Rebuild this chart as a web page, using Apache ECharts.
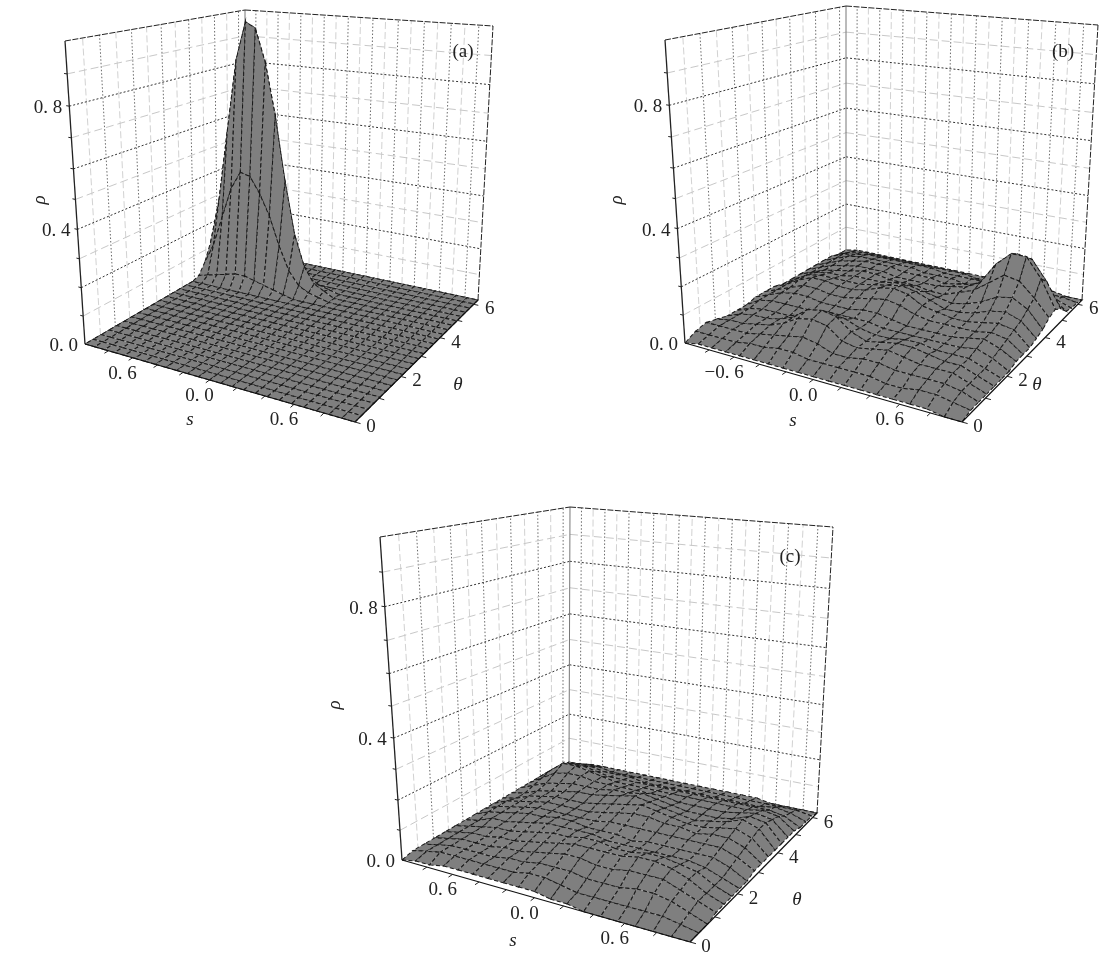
<!DOCTYPE html>
<html><head><meta charset="utf-8">
<style>html,body{margin:0;padding:0;background:#fff}#c{width:1107px;height:971px}</style>
<script src="https://cdn.jsdelivr.net/npm/echarts@6/dist/echarts.min.js"></script>
</head><body><div id="c"></div>
<script>
// ---- tick labels and axis values ----
const rhoTicks = [0,0.4,0.8];
const rhoTickLabels = ['0. 0','0. 4','0. 8'];
const rhoGrid = [0.1,0.2,0.3,0.4,0.5,0.6,0.7,0.8,0.9];
const thetaTicks = [0,2,4,6];
const thetaGrid = [0.5,1,1.5,2,2.5,3,3.5,4,4.5,5,5.5,6];
const sTicks = [-0.6,0,0.6];
const sGrid = [-0.9,-0.8,-0.7,-0.6,-0.5,-0.4,-0.3,-0.2,-0.1,0,0.1,0.2,0.3,0.4,0.5,0.6,0.7,0.8,0.9];
const sLabelsA = ['0. 6','0. 0','0. 6'];
const sLabelsB = ['\u22120. 6','0. 0','0. 6'];
const sLabelsC = ['0. 6','0. 0','0. 6'];
const thetaMax = 6.28;

// ---- surfaces: rho x 100, rows = theta from 0 upward, columns = s from -1 to 1 ----
const rhoA = [
[0,0,0,0,0,0,0,0,0,0,0,0,0,0,0,0,0,0,0,0,0,0,0,0,0],
[0,0,0,0,0,0,0,0,0,0,0,0,0,0,0,0,0,0,0,0,0,0,0,0,0],
[0,0,0,0,0,0,0,0,0,0,0,0,0,0,0,0,0,0,0,0,0,0,0,0,0],
[0,0,0,0,0,0,0,0,0,0,0,0,0,0,0,0,0,0,0,0,0,0,0,0,0],
[0,0,0,0,0,0,0,0,0,0,0,0,0,0,0,0,0,0,0,0,0,0,0,0,0],
[0,0,0,0,0,0,0,0,0,0,0,0,0,0,0,0,0,0,0,0,0,0,0,0,0],
[0,0,0,0,0,0,0,0,0,0,0,0,0,0,0,0,0,0,0,0,0,0,0,0,0],
[0,0,0,0,0,0,0,0,0,0,0,0,0,0,0,0,0,0,0,0,0,0,0,0,0],
[0,0,0,0,0,0,0,0,0,0,0,0,0,0,0,0,0,0,0,0,0,0,0,0,0],
[0,0,0,0,0,0,0,0,0,0,0,0,0,0,0,0,0,0,0,0,0,0,0,0,0],
[0,0,0,0,0,0,0,0,0,0,0,0,0,0,0,0,0,0,0,0,0,0,0,0,0],
[0,0,0,0,0,0,0,0,0,0,0,0,0,0,0,0,0,0,0,0,0,0,0,0,0],
[0,0,0,0,0,0,0,0,0,0,0,0,0,0,0,0,0,0,0,0,0,0,0,0,0],
[0,0,0,0,0,0,0,0,0,0,0,0,0,0,0,0,0,0,0,0,0,0,0,0,0],
[0,0,0,0,0,0,0,0,0,0,0,0,0,0,0,0,0,0,0,0,0,0,0,0,0],
[0,0,0,0,0,0,0,0,0,0,0,0,0,0,0,0,0,0,0,0,0,0,0,0,0],
[1,2,3,4,5,5,4,3,2,1,0,0,0,0,0,0,0,0,0,0,0,0,0,0,0],
[5,13,25,37,44,43,37,29,18,9,4,2,1,0,0,0,0,0,0,0,0,0,0,0,0],
[12,30,58,85,99,97,85,66,42,22,10,4,2,0,0,0,0,0,0,0,0,0,0,0,0],
[5,12,24,36,42,41,36,28,17,8,4,2,1,0,0,0,0,0,0,0,0,0,0,0,0],
[1,2,3,4,5,5,4,3,2,1,0,0,0,0,0,0,0,0,0,0,0,0,0,0,0],
[0,0,0,0,0,0,0,0,0,0,0,0,0,0,0,0,0,0,0,0,0,0,0,0,0],
[0,0,0,0,0,0,0,0,0,0,0,0,0,0,0,0,0,0,0,0,0,0,0,0,0],
[0,0,0,0,0,0,0,0,0,0,0,0,0,0,0,0,0,0,0,0,0,0,0,0,0],
[0,0,0,0,0,0,0,0,0,0,0,0,0,0,0,0,0,0,0,0,0,0,0,0,0]
];
const rhoB = [
[0,1,1,1,1,1,1,1,1,1,1,1,1,1,1,1,1,0,0],
[2,2,2,2,3,3,4,4,3,3,3,3,3,2,2,3,3,2,1],
[3,3,3,3,4,5,6,7,6,4,4,5,5,4,4,4,4,3,1],
[2,3,3,4,5,7,10,11,10,6,5,6,7,6,5,5,5,3,1],
[1,3,4,4,5,7,11,12,11,7,5,6,7,7,6,5,5,3,1],
[1,3,4,4,4,6,8,9,8,6,5,5,6,6,5,5,5,3,1],
[1,4,5,5,5,5,5,6,6,6,5,5,5,5,5,5,6,4,1],
[2,4,6,7,7,6,6,6,7,7,6,5,5,5,5,6,7,5,2],
[2,4,6,8,8,7,7,8,9,10,9,7,6,6,6,6,7,6,2],
[2,4,7,9,9,8,8,9,11,12,11,8,7,6,6,7,8,7,2],
[1,4,7,8,8,8,8,9,10,11,10,8,6,6,7,9,10,8,3],
[1,3,6,7,7,8,8,8,9,9,8,7,6,7,9,12,13,10,4],
[1,3,5,6,7,8,8,7,7,7,6,6,8,10,14,18,17,12,6],
[1,3,5,6,7,7,7,6,6,6,6,7,8,11,19,24,24,17,7],
[1,3,5,6,7,7,7,6,6,6,5,6,7,10,16,22,21,14,5],
[1,3,5,6,6,6,6,6,5,5,5,4,5,7,9,11,10,6,2],
[1,3,4,5,5,5,5,5,5,4,4,4,4,4,5,6,5,3,1],
[0,2,3,3,3,3,3,3,3,3,3,2,2,2,2,2,2,2,1],
[0,1,1,1,1,1,1,1,1,1,1,1,1,1,1,1,1,0,0]
];
const rhoC = [
[0,1,1,2,2,2,2,2,2,2,1,1,0,0,0,0,0,0,0],
[1,2,3,3,3,3,3,3,4,4,3,2,2,2,2,2,2,1,0],
[1,2,3,3,3,3,4,4,5,5,5,4,4,4,5,5,4,2,0],
[1,2,3,3,3,4,4,5,6,7,7,6,6,7,7,7,5,3,1],
[1,2,3,3,4,4,5,6,7,8,8,8,8,9,9,8,6,3,1],
[1,2,3,4,4,5,6,7,7,8,8,7,7,8,8,7,6,3,1],
[1,2,4,4,5,6,7,7,7,7,6,6,6,6,6,6,5,3,1],
[1,3,4,5,6,6,7,7,6,6,6,5,6,6,6,6,6,4,1],
[1,3,4,5,6,6,6,6,6,7,7,7,7,7,7,7,7,5,2],
[1,3,4,5,6,6,6,6,7,8,9,9,8,8,7,8,8,6,2],
[1,2,4,5,6,6,6,7,8,9,10,9,8,7,7,8,9,7,2],
[1,2,4,5,6,7,7,8,9,10,9,8,7,6,7,8,10,8,2],
[1,3,5,6,7,7,7,8,8,9,8,7,6,6,6,7,9,8,2],
[1,4,7,8,8,7,7,7,7,7,7,6,6,6,6,7,8,7,2],
[1,5,9,9,8,7,6,6,6,6,6,6,6,6,6,6,7,6,2],
[1,4,7,7,6,5,5,5,5,5,5,5,5,5,5,5,5,4,1],
[1,3,5,5,4,4,4,3,3,3,3,3,3,3,3,3,4,3,1],
[0,2,3,3,2,2,2,2,2,2,2,2,2,2,2,2,2,2,1],
[0,0,1,1,1,1,1,1,1,1,1,1,1,1,1,0,0,0,0]
];

// ---- panel layout: screen corners of the axis box ----
const panels = [
 {tag:'(a)',rho:rhoA,sLabels:sLabelsA,A:[85,344],F:[355,422],R:[478,300],B:[245,251],TA:[65,41],TB:[245,10],TR:[493,26],
  tagAt:[463,52],rhoTitle:[40,200],sTitle:[190,420],thTitle:[458,385]},
 {tag:'(b)',rho:rhoB,sLabels:sLabelsB,A:[685,343],F:[962,422],R:[1082,300],B:[846,250],TA:[665,40],TB:[846,6],TR:[1098,25],
  tagAt:[1063,52],rhoTitle:[617,200],sTitle:[793,421],thTitle:[1037,385]},
 {tag:'(c)',rho:rhoC,sLabels:sLabelsC,A:[402,860],F:[690,942],R:[817,813],B:[569,762],TA:[380,537],TB:[570,507],TR:[833,527],
  tagAt:[790,557],rhoTitle:[335,705],sTitle:[513,941],thTitle:[797,900]}
];

function camera(p){
  const [x0,y0]=p.A,[x1,y1]=p.F,[x2,y2]=p.R,[x3,y3]=p.B;
  const dx1=x1-x2,dx2=x3-x2,sx=x0-x1+x2-x3,dy1=y1-y2,dy2=y3-y2,sy=y0-y1+y2-y3;
  const den=dx1*dy2-dx2*dy1;
  const g=(sx*dy2-dx2*sy)/den,h=(dx1*sy-sx*dy1)/den;
  const pu=[x1-x0+g*x1,y1-y0+g*y1],pv=[x3-x0+h*x3,y3-y0+h*y3];
  const TA=p.TA,TB=p.TB,TR=p.TR;
  let num=0,dd=0;
  for(let k=0;k<2;k++){
    let d=TA[k]-TB[k],e=TB[k]*(1+h)-pv[k]-TA[k]; num+=d*e;dd+=d*d;
    d=TA[k]-TR[k];e=TR[k]*(1+g+h)-pu[k]-pv[k]-TA[k]; num+=d*e;dd+=d*d;
  }
  const c=num/dd;
  const pw=[TA[0]*(1+c)-x0,TA[1]*(1+c)-y0];
  const raw=function(u,v,w){
    const q=1+g*u+h*v+c*w;
    return [(x0+pu[0]*u+pv[0]*v+pw[0]*w)/q,(y0+pu[1]*u+pv[1]*v+pw[1]*w)/q];
  };
  const eB=raw(0,1,1),eR=raw(1,1,1);
  const dB=[TB[0]-eB[0],TB[1]-eB[1]],dR=[TR[0]-eR[0],TR[1]-eR[1]];
  return function(s,th,r){
    const u=(s+1)/2,v=th/thetaMax,q=raw(u,v,r);
    const kB=r*v*(1-u),kR=r*v*u;
    return [q[0]+kB*dB[0]+kR*dR[0],q[1]+kB*dB[1]+kR*dR[1]];
  };
}

const SERIF='"Liberation Serif","DejaVu Serif",serif';
const styles={
 light:{stroke:'#d2d2d2',lineWidth:1,lineDash:[7,3]},
 dark:{stroke:'#6a6a6a',lineWidth:1,lineDash:[1.5,2]},
 lightH:{stroke:'#c8c8c8',lineWidth:1,lineDash:[8,4]},
 darkH:{stroke:'#333',lineWidth:1,lineDash:[2,2]},
 back:{stroke:'#777',lineWidth:1},
 top:{stroke:'#222',lineWidth:1,lineDash:[6,1.5]},
 edge:{stroke:'#222',lineWidth:1.3},
 base:{stroke:'#111',lineWidth:1.2},
 tick:{stroke:'#222',lineWidth:1}
};

const series=[];
panels.forEach(p=>{
  const P=camera(p), T=thetaMax;
  // walls
  const wall=[];
  thetaGrid.forEach((t,k)=>{ wall.push([[-1,t,0],[-1,t,1],k%2?'dark':'light']); });
  sGrid.forEach((s,k)=>{ wall.push([[s,T,0],[s,T,1],k%2?'light':'dark']); });
  rhoGrid.forEach((r,k)=>{
    wall.push([[-1,0,r],[-1,T,r],k%2?'darkH':'lightH']);
    wall.push([[-1,T,r],[1,T,r],k%2?'darkH':'lightH']);
  });
  wall.push([[-1,T,0],[-1,T,1],'back']);
  wall.push([[-1,0,1],[-1,T,1],'top']);
  wall.push([[-1,T,1],[1,T,1],'top']);
  wall.push([[-1,0,0],[-1,0,1],'edge']);
  wall.push([[1,T,0],[1,T,1],'top']);
  wall.push([[-1,0,0],[-1,T,0],'tick']);
  wall.push([[-1,T,0],[1,T,0],'tick']);
  const lineItem=(list)=>function(params,api){
    const it=list[params.dataIndex];
    const a=api.coord(P(...it[0])),b=api.coord(P(...it[1]));
    return {type:'line',shape:{x1:a[0],y1:a[1],x2:b[0],y2:b[1]},style:Object.assign({fill:null},styles[it[2]])};
  };
  series.push({type:'custom',coordinateSystem:'cartesian2d',silent:true,animation:false,clip:false,z:1,
    data:wall.map((_,k)=>[k,0]),renderItem:lineItem(wall)});

  // surface, far cells first
  const M=p.rho,nT=M.length,nS=M[0].length,cells=[];
  for(let j=nT-2;j>=0;j--)for(let i=0;i<nS-1;i++)cells.push([i,j]);
  const node=(i,j)=>P(-1+2*i/(nS-1),thetaMax*j/(nT-1),M[j][i]/100);
  series.push({type:'custom',coordinateSystem:'cartesian2d',silent:true,animation:false,clip:false,z:2,
    data:cells,
    renderItem:function(params,api){
      const i=api.value(0),j=api.value(1);
      const pts=[node(i,j),node(i+1,j),node(i+1,j+1),node(i,j+1)].map(q=>api.coord(q));
      return {type:'polygon',shape:{points:pts},
        style:{fill:'#7f7f7f',stroke:'#1a1a1a',lineWidth:1.05,lineDash:[4,2.5]}};
    }});

  // axes in front
  const front=[];
  front.push([[-1,0,0],[1,0,0],'base']);
  front.push([[1,0,0],[1,T,0],'base']);
  [-0.8,-0.6,-0.4,-0.2,0,0.2,0.4,0.6,0.8].forEach(s=>front.push([[s,0,0],[s,-0.13,0],'tick']));
  [0,1,2,3,4,5,6].forEach(t=>front.push([[1,t,0],[1.035,t,0],'tick']));
  rhoGrid.forEach(r=>front.push([[-1,0,r],[-1.025,0,r],'tick']));
  series.push({type:'custom',coordinateSystem:'cartesian2d',silent:true,animation:false,clip:false,z:3,
    data:front.map((_,k)=>[k,0]),renderItem:lineItem(front)});

  // text
  const texts=[];
  rhoTicks.forEach((r,k)=>{const q=P(-1,0,r);texts.push([rhoTickLabels[k],q[0]-7,q[1]+2,'right',false]);});
  sTicks.forEach((s,k)=>{const q=P(s,0,0);texts.push([p.sLabels[k],q[0]-10,q[1]+16,'center',false]);});
  thetaTicks.forEach(t=>{const q=P(1,t,0);texts.push([String(t),q[0]+16,q[1]+5,'center',false]);});
  texts.push([p.tag,p.tagAt[0],p.tagAt[1],'center',false]);
  texts.push(['s',p.sTitle[0],p.sTitle[1],'center',true]);
  texts.push(['\u03b8',p.thTitle[0],p.thTitle[1],'center',true]);
  texts.push(['\u03c1',p.rhoTitle[0],p.rhoTitle[1],'center',true,true]);
  series.push({type:'custom',coordinateSystem:'cartesian2d',silent:true,animation:false,clip:false,z:4,
    data:texts.map((_,k)=>[k,0]),
    renderItem:function(params,api){
      const t=texts[params.dataIndex],c=api.coord([t[1],t[2]]);
      return {type:'text',x:c[0],y:c[1],rotation:t[5]?Math.PI/2:0,
        style:{text:t[0],align:t[3],verticalAlign:'middle',fill:'#222',
          font:(t[4]?'italic ':'')+'19px '+SERIF}};
    }});
});

const chart=echarts.init(document.getElementById('c'));
chart.setOption({
  animation:false,backgroundColor:'#fff',
  grid:{left:0,right:0,top:0,bottom:0},
  xAxis:{type:'value',min:0,max:1107,show:false},
  yAxis:{type:'value',min:0,max:971,inverse:true,show:false},
  series
});
</script></body></html>
